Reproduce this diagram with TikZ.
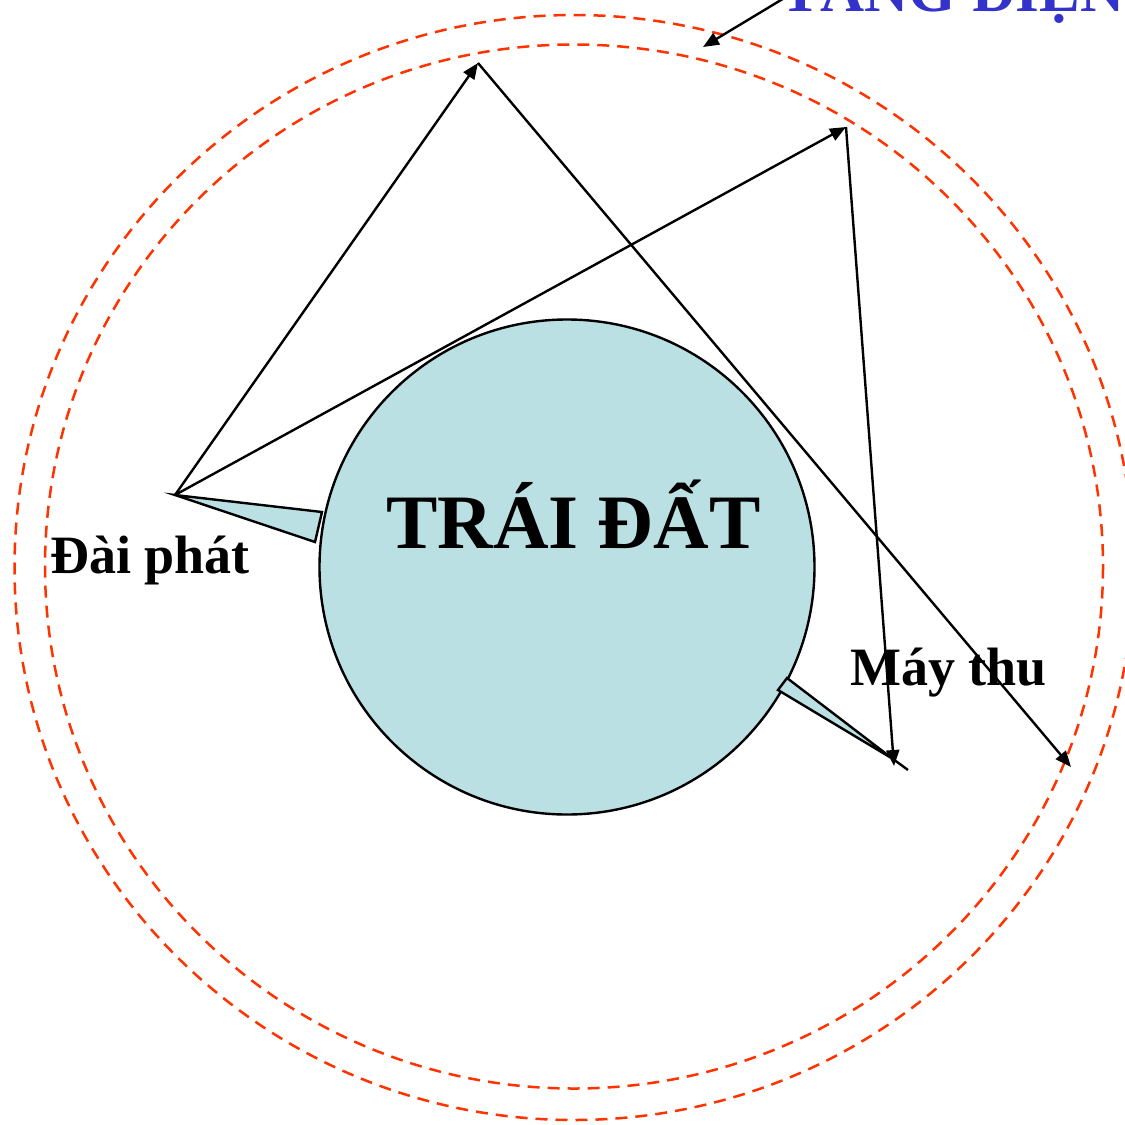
\documentclass[tikz,border=0pt]{standalone}
\usepackage{fontspec}
\setmainfont{Liberation Serif}
\usetikzlibrary{arrows.meta}
\definecolor{earth}{RGB}{187,224,227}
\definecolor{ion}{RGB}{255,51,0}
\definecolor{titleblue}{RGB}{51,51,204}
\tikzset{
  layer/.style={draw=ion, line width=2.5pt, dash pattern=on 12pt off 8pt},
  ray/.style={draw=black, line width=2.4pt, -{Triangle[length=16pt,width=13pt]}},
  antenna/.style={draw=black, fill=earth, line width=2.4pt, line join=miter},
  lbl/.style={font=\fontsize{54}{60}\selectfont\bfseries, anchor=base west, inner sep=0pt}
}
\begin{document}
\begin{tikzpicture}[x=1pt,y=-1pt]
\useasboundingbox (0,0) rectangle (1125,1125);
\clip (0,0) rectangle (1125,1125);
% ionosphere layers
\draw[layer] (574,567.5) ellipse [x radius=559.5, y radius=552.5];
\draw[layer] (574,566.5) ellipse [x radius=529, y radius=522];
% earth
\node[circle, draw=black, line width=2.4pt, fill=earth, minimum size=495pt, inner sep=0pt] (earth) at (567,567) {};
\node[anchor=base west, inner sep=0pt, font=\fontsize{77}{80}\selectfont\bfseries] (earthlbl) at (386,548) {TRÁI ĐẤT};
% coordinates
\coordinate (tx) at (175,495);
\coordinate (txa) at (322,512);
\coordinate (txb) at (315,542);
\coordinate (rxa) at (787,678);
\coordinate (rxb) at (778,690);
\coordinate (rx) at (893,759);
\coordinate (rxend) at (908,770);
\coordinate (r1) at (478,63);
\coordinate (r2) at (846,127);
\coordinate (far) at (1071,767);
\coordinate (rxtip) at (894,766);
\coordinate (src) at (786,-3);
\coordinate (tip) at (703,47);
% antennas
\draw[antenna] (tx) -- (txa) -- (txb) -- cycle;
\draw[antenna] (rxa) -- (rxb) -- (rx) -- cycle;
\draw[line width=2.4pt] (rx) -- (rxend);
% rays
\draw[ray] (tx) -- (r1);
\draw[ray] (r1) -- (far);
\draw[ray] (tx) -- (r2);
\draw[ray] (r2) -- (rxtip);
\draw[ray] (src) -- (tip);
% labels
\node[lbl] (tlabel) at (50,573) {Đài phát};
\node[lbl] (rlabel) at (850,685) {Máy thu};
\node[anchor=base west, inner sep=0pt, text=titleblue, font=\fontsize{61}{64}\selectfont\bfseries] (iono) at (780,11) {TẦNG ĐIỆN LY};
\end{tikzpicture}
\end{document}
